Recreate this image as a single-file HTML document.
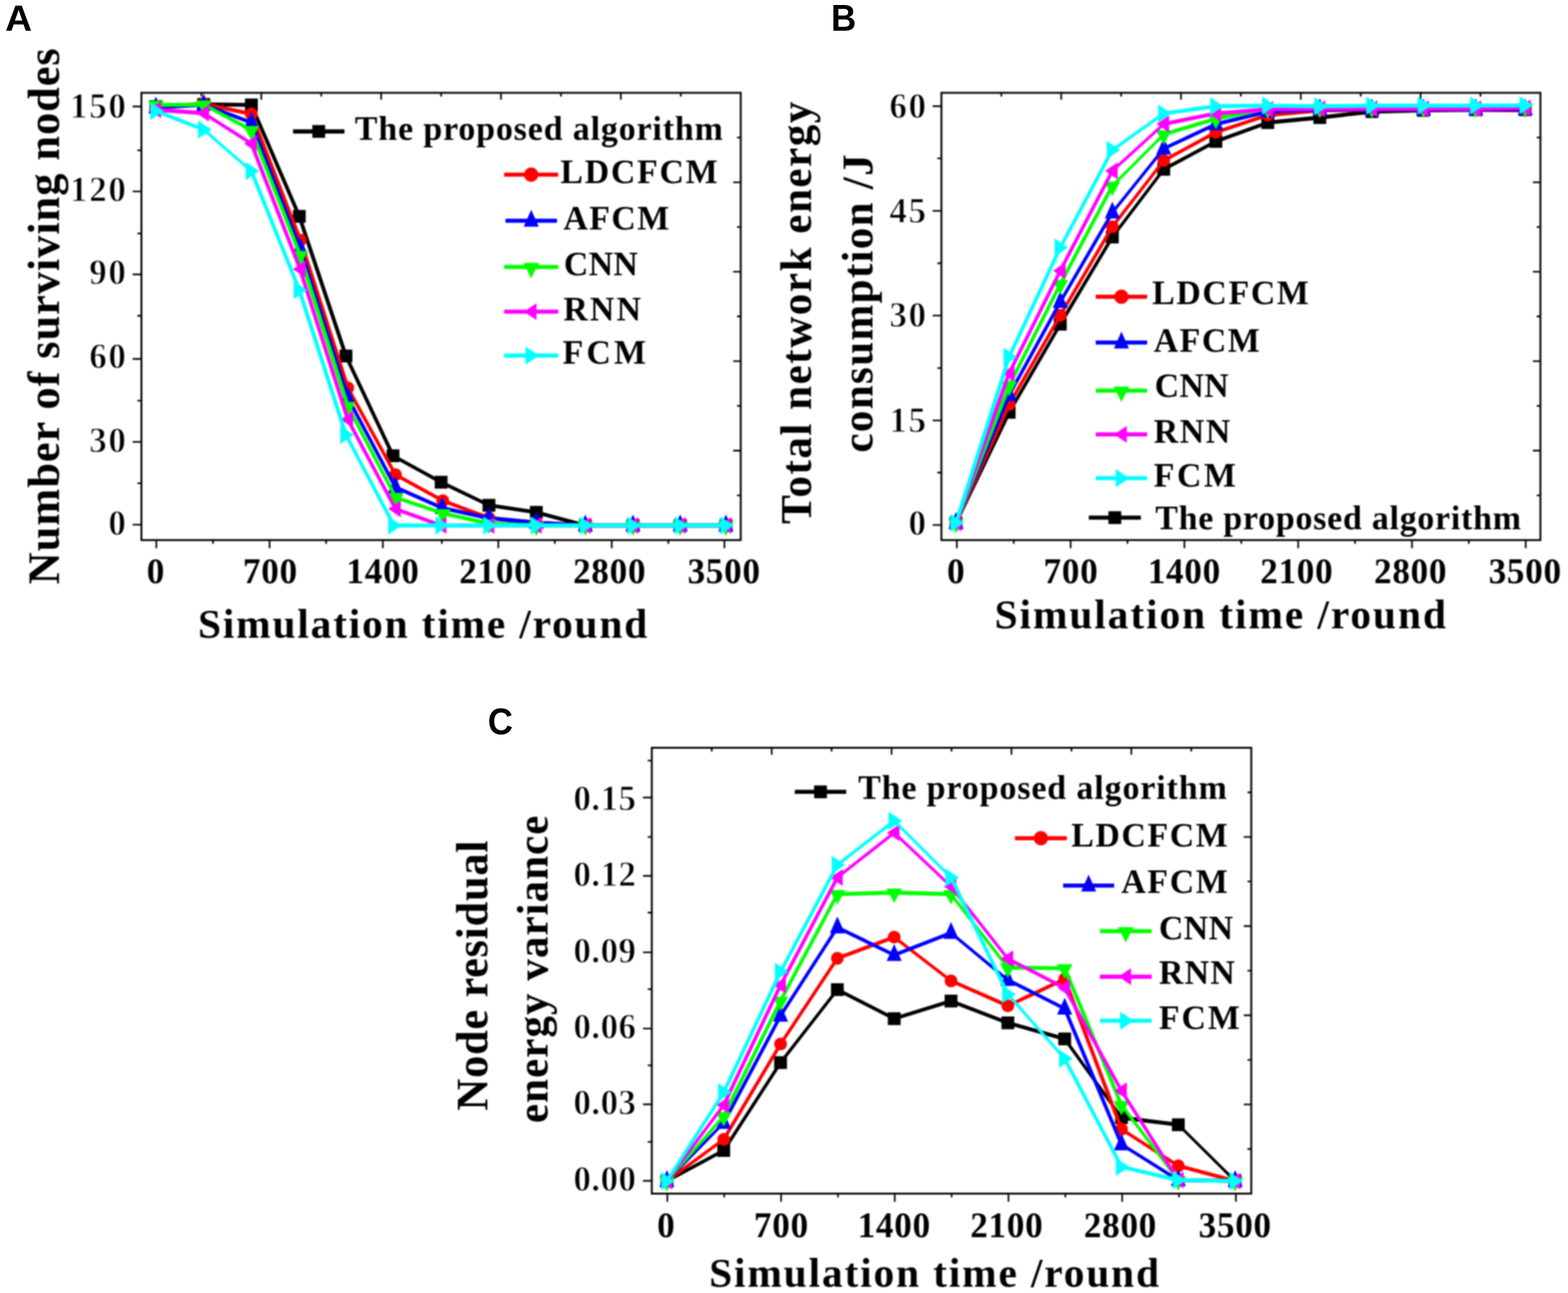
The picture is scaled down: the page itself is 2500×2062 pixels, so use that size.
<!DOCTYPE html>
<html lang="en">
<head>
<meta charset="utf-8">
<title>Figure</title>
<style>html,body{margin:0;padding:0;background:#fff}svg{display:block}text{fill:#000;stroke-linejoin:round}</style>
</head>
<body>
<svg width="2500" height="2062" viewBox="0 0 2500 2062">
<defs><filter id="soft" filterUnits="userSpaceOnUse" x="0" y="0" width="2500" height="2062" color-interpolation-filters="sRGB"><feGaussianBlur stdDeviation="1.1"/></filter></defs>
<rect width="2500" height="2062" fill="#fff"/>
<g id="charts" filter="url(#soft)">
<g id="chartA">
<rect x="225.5" y="148" width="955.5" height="713.3" fill="none" stroke="#000" stroke-width="3"/>
<path d="M249.2 861.3v13 M339.7 861.3v6 M429.8 861.3v13 M519.9 861.3v6 M610.4 861.3v13 M704.5 861.3v6 M794.5 861.3v13 M884.6 861.3v6 M975.3 861.3v13 M1065.6 861.3v6 M1155 861.3v13 M225.5 169.9h-14 M225.5 239.7h-6.5 M225.5 305.3h-14 M225.5 372.3h-6.5 M225.5 437.6h-14 M225.5 503.6h-6.5 M225.5 572.4h-14 M225.5 639h-6.5 M225.5 704.7h-14 M225.5 770.8h-6.5 M225.5 836.8h-14 M321.1 148v6 M416.6 148v11 M512.1 148v6 M607.7 148v11 M703.2 148v6 M798.8 148v11 M894.4 148v6 M989.9 148v11 M1085.5 148v6 M1181 219.3h-6 M1181 290.7h-12 M1181 362h-6 M1181 433.3h-12 M1181 504.6h-6 M1181 576h-12 M1181 647.3h-6 M1181 718.6h-12 M1181 790h-6" stroke="#000" stroke-width="2.6" fill="none"/>
<path d="M248.5 170L324.8 166.5M324.8 166.5L400.8 167.3M933.2 838L1009.2 838M1009.2 838L1084.5 838M1084.5 838L1157.4 838" fill="none" stroke="#000000" stroke-width="6.3" stroke-linecap="round"/>
<path d="M400.8 167.3L477.2 345" fill="none" stroke="#000000" stroke-width="5.8" stroke-linecap="round"/>
<path d="M477.2 345L551.6 567.7" fill="none" stroke="#000000" stroke-width="6.0" stroke-linecap="round"/>
<path d="M551.6 567.7L626.6 726.8M703.3 769L779.6 805.8" fill="none" stroke="#000000" stroke-width="5.7" stroke-linecap="round"/>
<path d="M626.6 726.8L703.3 769" fill="none" stroke="#000000" stroke-width="5.5" stroke-linecap="round"/>
<path d="M779.6 805.8L855.1 817" fill="none" stroke="#000000" stroke-width="6.2" stroke-linecap="round"/>
<path d="M855.1 817L933.2 838" fill="none" stroke="#000000" stroke-width="6.1" stroke-linecap="round"/>
<rect x="238.3" y="159.8" width="20.4" height="20.4" fill="#000000"/>
<rect x="314.6" y="156.3" width="20.4" height="20.4" fill="#000000"/>
<rect x="390.6" y="157.1" width="20.4" height="20.4" fill="#000000"/>
<rect x="467" y="334.8" width="20.4" height="20.4" fill="#000000"/>
<rect x="541.4" y="557.5" width="20.4" height="20.4" fill="#000000"/>
<rect x="616.4" y="716.6" width="20.4" height="20.4" fill="#000000"/>
<rect x="693.1" y="758.8" width="20.4" height="20.4" fill="#000000"/>
<rect x="769.4" y="795.6" width="20.4" height="20.4" fill="#000000"/>
<rect x="844.9" y="806.8" width="20.4" height="20.4" fill="#000000"/>
<rect x="923" y="827.8" width="20.4" height="20.4" fill="#000000"/>
<rect x="999" y="827.8" width="20.4" height="20.4" fill="#000000"/>
<rect x="1074.3" y="827.8" width="20.4" height="20.4" fill="#000000"/>
<rect x="1147.2" y="827.8" width="20.4" height="20.4" fill="#000000"/>
<path d="M248.5 170L324.8 165.6M779.6 826L855.1 833.5M855.1 833.5L933.2 838M933.2 838L1009.2 838M1009.2 838L1084.5 838M1084.5 838L1157.4 838" fill="none" stroke="#ff0000" stroke-width="6.3" stroke-linecap="round"/>
<path d="M324.8 165.6L400.8 181.8" fill="none" stroke="#ff0000" stroke-width="6.2" stroke-linecap="round"/>
<path d="M400.8 181.8L478.9 383M706 798.5L779.6 826" fill="none" stroke="#ff0000" stroke-width="5.9" stroke-linecap="round"/>
<path d="M478.9 383L554.5 618.5" fill="none" stroke="#ff0000" stroke-width="6.0" stroke-linecap="round"/>
<path d="M554.5 618.5L630.5 757M630.5 757L706 798.5" fill="none" stroke="#ff0000" stroke-width="5.5" stroke-linecap="round"/>
<circle cx="248.5" cy="170" r="10.2" fill="#ff0000"/>
<circle cx="324.8" cy="165.6" r="10.2" fill="#ff0000"/>
<circle cx="400.8" cy="181.8" r="10.2" fill="#ff0000"/>
<circle cx="478.9" cy="383" r="10.2" fill="#ff0000"/>
<circle cx="554.5" cy="618.5" r="10.2" fill="#ff0000"/>
<circle cx="630.5" cy="757" r="10.2" fill="#ff0000"/>
<circle cx="706" cy="798.5" r="10.2" fill="#ff0000"/>
<circle cx="779.6" cy="826" r="10.2" fill="#ff0000"/>
<circle cx="855.1" cy="833.5" r="10.2" fill="#ff0000"/>
<circle cx="933.2" cy="838" r="10.2" fill="#ff0000"/>
<circle cx="1009.2" cy="838" r="10.2" fill="#ff0000"/>
<circle cx="1084.5" cy="838" r="10.2" fill="#ff0000"/>
<circle cx="1157.4" cy="838" r="10.2" fill="#ff0000"/>
<path d="M248.5 171.5L324.8 167M779.6 826.5L855.1 833.5M855.1 833.5L933.2 838M933.2 838L1009.2 838M1009.2 838L1084.5 838M1084.5 838L1157.4 838" fill="none" stroke="#0000ff" stroke-width="6.3" stroke-linecap="round"/>
<path d="M324.8 167L400.8 195.5M400.8 195.5L478.5 396" fill="none" stroke="#0000ff" stroke-width="5.9" stroke-linecap="round"/>
<path d="M478.5 396L554.5 634" fill="none" stroke="#0000ff" stroke-width="6.0" stroke-linecap="round"/>
<path d="M554.5 634L630.5 777" fill="none" stroke="#0000ff" stroke-width="5.6" stroke-linecap="round"/>
<path d="M630.5 777L705 810" fill="none" stroke="#0000ff" stroke-width="5.8" stroke-linecap="round"/>
<path d="M705 810L779.6 826.5" fill="none" stroke="#0000ff" stroke-width="6.2" stroke-linecap="round"/>
<polygon points="248.5,154 236.5,181 260.5,181" fill="#0000ff"/>
<polygon points="324.8,149.5 312.8,176.5 336.8,176.5" fill="#0000ff"/>
<polygon points="400.8,178 388.8,205 412.8,205" fill="#0000ff"/>
<polygon points="478.5,378.5 466.5,405.5 490.5,405.5" fill="#0000ff"/>
<polygon points="554.5,616.5 542.5,643.5 566.5,643.5" fill="#0000ff"/>
<polygon points="630.5,759.5 618.5,786.5 642.5,786.5" fill="#0000ff"/>
<polygon points="705,792.5 693,819.5 717,819.5" fill="#0000ff"/>
<polygon points="779.6,809 767.6,836 791.6,836" fill="#0000ff"/>
<polygon points="855.1,816 843.1,843 867.1,843" fill="#0000ff"/>
<polygon points="933.2,820.5 921.2,847.5 945.2,847.5" fill="#0000ff"/>
<polygon points="1009.2,820.5 997.2,847.5 1021.2,847.5" fill="#0000ff"/>
<polygon points="1084.5,820.5 1072.5,847.5 1096.5,847.5" fill="#0000ff"/>
<polygon points="1157.4,820.5 1145.4,847.5 1169.4,847.5" fill="#0000ff"/>
<path d="M248.5 167.3L324.8 166.8M779.6 835L855.1 838M855.1 838L933.2 838M933.2 838L1009.2 838M1009.2 838L1084.5 838M1084.5 838L1157.4 838" fill="none" stroke="#00ff00" stroke-width="6.3" stroke-linecap="round"/>
<path d="M324.8 166.8L400.8 207.5M554.5 647.5L631 793.5" fill="none" stroke="#00ff00" stroke-width="5.6" stroke-linecap="round"/>
<path d="M400.8 207.5L478.5 406.7" fill="none" stroke="#00ff00" stroke-width="5.9" stroke-linecap="round"/>
<path d="M478.5 406.7L554.5 647.5M631 793.5L706 818.5" fill="none" stroke="#00ff00" stroke-width="6.0" stroke-linecap="round"/>
<path d="M706 818.5L779.6 835" fill="none" stroke="#00ff00" stroke-width="6.1" stroke-linecap="round"/>
<polygon points="248.5,183.8 236,160.8 261,160.8" fill="#00ff00"/>
<polygon points="324.8,183.3 312.3,160.3 337.3,160.3" fill="#00ff00"/>
<polygon points="400.8,224 388.3,201 413.3,201" fill="#00ff00"/>
<polygon points="478.5,423.2 466,400.2 491,400.2" fill="#00ff00"/>
<polygon points="554.5,664 542,641 567,641" fill="#00ff00"/>
<polygon points="631,810 618.5,787 643.5,787" fill="#00ff00"/>
<polygon points="706,835 693.5,812 718.5,812" fill="#00ff00"/>
<polygon points="779.6,851.5 767.1,828.5 792.1,828.5" fill="#00ff00"/>
<polygon points="855.1,854.5 842.6,831.5 867.6,831.5" fill="#00ff00"/>
<polygon points="933.2,854.5 920.7,831.5 945.7,831.5" fill="#00ff00"/>
<polygon points="1009.2,854.5 996.7,831.5 1021.7,831.5" fill="#00ff00"/>
<polygon points="1084.5,854.5 1072,831.5 1097,831.5" fill="#00ff00"/>
<polygon points="1157.4,854.5 1144.9,831.5 1169.9,831.5" fill="#00ff00"/>
<path d="M248.5 175L324.8 180.5M703.3 838L779.6 838M779.6 838L855.1 838M855.1 838L933.2 838M933.2 838L1009.2 838M1009.2 838L1084.5 838M1084.5 838L1157.4 838" fill="none" stroke="#ff00ff" stroke-width="6.3" stroke-linecap="round"/>
<path d="M324.8 180.5L400.8 229" fill="none" stroke="#ff00ff" stroke-width="5.3" stroke-linecap="round"/>
<path d="M400.8 229L478.5 429.3M630.5 811.5L703.3 838" fill="none" stroke="#ff00ff" stroke-width="5.9" stroke-linecap="round"/>
<path d="M478.5 429.3L554.5 669" fill="none" stroke="#ff00ff" stroke-width="6.0" stroke-linecap="round"/>
<path d="M554.5 669L630.5 811.5" fill="none" stroke="#ff00ff" stroke-width="5.6" stroke-linecap="round"/>
<polygon points="237,175 257,161.5 257,188.5" fill="#ff00ff"/>
<polygon points="313.3,180.5 333.3,167 333.3,194" fill="#ff00ff"/>
<polygon points="389.3,229 409.3,215.5 409.3,242.5" fill="#ff00ff"/>
<polygon points="467,429.3 487,415.8 487,442.8" fill="#ff00ff"/>
<polygon points="543,669 563,655.5 563,682.5" fill="#ff00ff"/>
<polygon points="619,811.5 639,798 639,825" fill="#ff00ff"/>
<polygon points="691.8,838 711.8,824.5 711.8,851.5" fill="#ff00ff"/>
<polygon points="768.1,838 788.1,824.5 788.1,851.5" fill="#ff00ff"/>
<polygon points="843.6,838 863.6,824.5 863.6,851.5" fill="#ff00ff"/>
<polygon points="921.7,838 941.7,824.5 941.7,851.5" fill="#ff00ff"/>
<polygon points="997.7,838 1017.7,824.5 1017.7,851.5" fill="#ff00ff"/>
<polygon points="1073,838 1093,824.5 1093,851.5" fill="#ff00ff"/>
<polygon points="1145.9,838 1165.9,824.5 1165.9,851.5" fill="#ff00ff"/>
<path d="M248.5 177L324.8 206.8" fill="none" stroke="#00ffff" stroke-width="5.9" stroke-linecap="round"/>
<path d="M324.8 206.8L400.8 272.8" fill="none" stroke="#00ffff" stroke-width="4.8" stroke-linecap="round"/>
<path d="M400.8 272.8L477.2 462.5" fill="none" stroke="#00ffff" stroke-width="5.8" stroke-linecap="round"/>
<path d="M477.2 462.5L551.5 693.5" fill="none" stroke="#00ffff" stroke-width="6.0" stroke-linecap="round"/>
<path d="M551.5 693.5L628 838" fill="none" stroke="#00ffff" stroke-width="5.6" stroke-linecap="round"/>
<path d="M628 838L703.3 838M703.3 838L779.6 838M779.6 838L855.1 838M855.1 838L933.2 838M933.2 838L1009.2 838M1009.2 838L1084.5 838M1084.5 838L1157.4 838" fill="none" stroke="#00ffff" stroke-width="6.3" stroke-linecap="round"/>
<polygon points="261,177 239.5,162.5 239.5,191.5" fill="#00ffff"/>
<polygon points="337.3,206.8 315.8,192.3 315.8,221.3" fill="#00ffff"/>
<polygon points="413.3,272.8 391.8,258.3 391.8,287.3" fill="#00ffff"/>
<polygon points="489.7,462.5 468.2,448 468.2,477" fill="#00ffff"/>
<polygon points="564,693.5 542.5,679 542.5,708" fill="#00ffff"/>
<polygon points="640.5,838 619,823.5 619,852.5" fill="#00ffff"/>
<polygon points="715.8,838 694.3,823.5 694.3,852.5" fill="#00ffff"/>
<polygon points="792.1,838 770.6,823.5 770.6,852.5" fill="#00ffff"/>
<polygon points="867.6,838 846.1,823.5 846.1,852.5" fill="#00ffff"/>
<polygon points="945.7,838 924.2,823.5 924.2,852.5" fill="#00ffff"/>
<polygon points="1021.7,838 1000.2,823.5 1000.2,852.5" fill="#00ffff"/>
<polygon points="1097,838 1075.5,823.5 1075.5,852.5" fill="#00ffff"/>
<polygon points="1169.9,838 1148.4,823.5 1148.4,852.5" fill="#00ffff"/>
<text x="248" y="930" font-family='"Liberation Serif", "DejaVu Serif", serif' font-weight="bold" font-size="56" text-anchor="middle">0</text>
<text x="430.6" y="930" font-family='"Liberation Serif", "DejaVu Serif", serif' font-weight="bold" font-size="56" text-anchor="middle" textLength="86.5" lengthAdjust="spacing">700</text>
<text x="610.1" y="930" font-family='"Liberation Serif", "DejaVu Serif", serif' font-weight="bold" font-size="56" text-anchor="middle" textLength="115.5" lengthAdjust="spacing">1400</text>
<text x="789.9" y="930" font-family='"Liberation Serif", "DejaVu Serif", serif' font-weight="bold" font-size="56" text-anchor="middle" textLength="115.5" lengthAdjust="spacing">2100</text>
<text x="971.4" y="930" font-family='"Liberation Serif", "DejaVu Serif", serif' font-weight="bold" font-size="56" text-anchor="middle" textLength="115.5" lengthAdjust="spacing">2800</text>
<text x="1153.9" y="930" font-family='"Liberation Serif", "DejaVu Serif", serif' font-weight="bold" font-size="56" text-anchor="middle" textLength="115.5" lengthAdjust="spacing">3500</text>
<text x="200.8" y="188.3" font-family='"Liberation Serif", "DejaVu Serif", serif' font-weight="bold" font-size="56" text-anchor="end" textLength="89.2" lengthAdjust="spacing" stroke="#fff" stroke-width="1.3">150</text>
<text x="200.8" y="320.8" font-family='"Liberation Serif", "DejaVu Serif", serif' font-weight="bold" font-size="56" text-anchor="end" textLength="89.2" lengthAdjust="spacing" stroke="#fff" stroke-width="1.3">120</text>
<text x="200.8" y="453" font-family='"Liberation Serif", "DejaVu Serif", serif' font-weight="bold" font-size="56" text-anchor="end" textLength="58.6" lengthAdjust="spacing" stroke="#fff" stroke-width="1.3">90</text>
<text x="200.8" y="587.3" font-family='"Liberation Serif", "DejaVu Serif", serif' font-weight="bold" font-size="56" text-anchor="end" textLength="58.6" lengthAdjust="spacing" stroke="#fff" stroke-width="1.3">60</text>
<text x="200.8" y="720.7" font-family='"Liberation Serif", "DejaVu Serif", serif' font-weight="bold" font-size="56" text-anchor="end" textLength="58.6" lengthAdjust="spacing" stroke="#fff" stroke-width="1.3">30</text>
<text x="200.8" y="852.8" font-family='"Liberation Serif", "DejaVu Serif", serif' font-weight="bold" font-size="56" text-anchor="end" stroke="#fff" stroke-width="1.3">0</text>
<text x="315.7" y="1016.5" font-family='"Liberation Serif", "DejaVu Serif", serif' font-weight="bold" font-size="66" textLength="716.3" lengthAdjust="spacing">Simulation time /round</text>
<text transform="translate(94 932) rotate(-90)" font-family='"Liberation Serif", "DejaVu Serif", serif' font-weight="bold" font-size="71" textLength="855" lengthAdjust="spacing">Number of surviving nodes</text>
<line x1="467.2" y1="209.6" x2="549.2" y2="209.6" stroke="#000000" stroke-width="6.6"/>
<rect x="498" y="199.4" width="20.4" height="20.4" fill="#000000"/>
<text x="565.8" y="222.6" font-family='"Liberation Serif", "DejaVu Serif", serif' font-weight="bold" font-size="54" textLength="586.7" lengthAdjust="spacing">The proposed algorithm</text>
<line x1="803.8" y1="278.5" x2="890" y2="278.5" stroke="#ff0000" stroke-width="6.6"/>
<circle cx="846.9" cy="278.5" r="11.4" fill="#ff0000"/>
<text x="893.6" y="291.5" font-family='"Liberation Serif", "DejaVu Serif", serif' font-weight="bold" font-size="54" textLength="250.6" lengthAdjust="spacing">LDCFCM</text>
<line x1="806" y1="352" x2="888" y2="352" stroke="#0000ff" stroke-width="6.6"/>
<polygon points="847,334.5 835,361.5 859,361.5" fill="#0000ff"/>
<text x="898.3" y="366.3" font-family='"Liberation Serif", "DejaVu Serif", serif' font-weight="bold" font-size="54" textLength="168.7" lengthAdjust="spacing">AFCM</text>
<line x1="803.8" y1="425.7" x2="890" y2="425.7" stroke="#00ff00" stroke-width="6.6"/>
<polygon points="846.9,443.8 834.4,419.2 859.4,419.2" fill="#00ff00"/>
<text x="899" y="438.8" font-family='"Liberation Serif", "DejaVu Serif", serif' font-weight="bold" font-size="54" textLength="118" lengthAdjust="spacing">CNN</text>
<line x1="803.8" y1="497" x2="890" y2="497" stroke="#ff00ff" stroke-width="6.6"/>
<polygon points="835.4,497 855.4,483.5 855.4,510.5" fill="#ff00ff"/>
<text x="898.3" y="511.2" font-family='"Liberation Serif", "DejaVu Serif", serif' font-weight="bold" font-size="54" textLength="123.6" lengthAdjust="spacing">RNN</text>
<line x1="803.8" y1="567" x2="890" y2="567" stroke="#00ffff" stroke-width="6.6"/>
<polygon points="859.4,567 837.9,552.5 837.9,581.5" fill="#00ffff"/>
<text x="897" y="579.5" font-family='"Liberation Serif", "DejaVu Serif", serif' font-weight="bold" font-size="54" textLength="133" lengthAdjust="spacing">FCM</text>
</g>
<g id="chartB">
<rect x="1501" y="148" width="955" height="713.3" fill="none" stroke="#000" stroke-width="3"/>
<path d="M1525.6 861.3v13 M1616.3 861.3v6 M1707 861.3v13 M1797.7 861.3v6 M1888.4 861.3v13 M1979.1 861.3v6 M2069.8 861.3v13 M2160.5 861.3v6 M2251.2 861.3v13 M2341.9 861.3v6 M2432.6 861.3v13 M1501 169.4h-14 M1501 252.5h-6.5 M1501 336.3h-14 M1501 419.9h-6.5 M1501 503.2h-14 M1501 587h-6.5 M1501 670.5h-14 M1501 753.6h-6.5 M1501 837.2h-14 M1596.5 148v6 M1692 148v11 M1787.5 148v6 M1883 148v11 M1978.5 148v6 M2074 148v11 M2169.5 148v6 M2265 148v11 M2360.5 148v6 M2456 219.3h-6 M2456 290.7h-12 M2456 362h-6 M2456 433.3h-12 M2456 504.6h-6 M2456 576h-12 M2456 647.3h-6 M2456 718.6h-12 M2456 790h-6" stroke="#000" stroke-width="2.6" fill="none"/>
<path d="M1524.2 834L1609 657.5" fill="none" stroke="#000000" stroke-width="5.7" stroke-linecap="round"/>
<path d="M1609 657.5L1690.5 517M1690.5 517L1773.5 378" fill="none" stroke="#000000" stroke-width="5.4" stroke-linecap="round"/>
<path d="M1773.5 378L1855.5 270" fill="none" stroke="#000000" stroke-width="5.0" stroke-linecap="round"/>
<path d="M1855.5 270L1938.5 225.5" fill="none" stroke="#000000" stroke-width="5.6" stroke-linecap="round"/>
<path d="M1938.5 225.5L2021.3 195.5" fill="none" stroke="#000000" stroke-width="5.9" stroke-linecap="round"/>
<path d="M2021.3 195.5L2104.3 187.5M2104.3 187.5L2187.5 178M2187.5 178L2269.5 176M2269.5 176L2353 175M2353 175L2431.8 175" fill="none" stroke="#000000" stroke-width="6.3" stroke-linecap="round"/>
<rect x="1514" y="823.8" width="20.4" height="20.4" fill="#000000"/>
<rect x="1598.8" y="647.3" width="20.4" height="20.4" fill="#000000"/>
<rect x="1680.3" y="506.8" width="20.4" height="20.4" fill="#000000"/>
<rect x="1763.3" y="367.8" width="20.4" height="20.4" fill="#000000"/>
<rect x="1845.3" y="259.8" width="20.4" height="20.4" fill="#000000"/>
<rect x="1928.3" y="215.3" width="20.4" height="20.4" fill="#000000"/>
<rect x="2011.1" y="185.3" width="20.4" height="20.4" fill="#000000"/>
<rect x="2094.1" y="177.3" width="20.4" height="20.4" fill="#000000"/>
<rect x="2177.3" y="167.8" width="20.4" height="20.4" fill="#000000"/>
<rect x="2259.3" y="165.8" width="20.4" height="20.4" fill="#000000"/>
<rect x="2342.8" y="164.8" width="20.4" height="20.4" fill="#000000"/>
<rect x="2421.6" y="164.8" width="20.4" height="20.4" fill="#000000"/>
<path d="M1524.2 834L1609 645" fill="none" stroke="#ff0000" stroke-width="5.7" stroke-linecap="round"/>
<path d="M1609 645L1690.5 503M1855.5 256L1938.5 211" fill="none" stroke="#ff0000" stroke-width="5.5" stroke-linecap="round"/>
<path d="M1690.5 503L1773.5 361.6" fill="none" stroke="#ff0000" stroke-width="5.4" stroke-linecap="round"/>
<path d="M1773.5 361.6L1855.5 256" fill="none" stroke="#ff0000" stroke-width="5.0" stroke-linecap="round"/>
<path d="M1938.5 211L2021.3 183.5" fill="none" stroke="#ff0000" stroke-width="6.0" stroke-linecap="round"/>
<path d="M2021.3 183.5L2104.3 176M2104.3 176L2187.5 175M2187.5 175L2269.5 175M2269.5 175L2353 175M2353 175L2431.8 176" fill="none" stroke="#ff0000" stroke-width="6.3" stroke-linecap="round"/>
<circle cx="1524.2" cy="834" r="10.2" fill="#ff0000"/>
<circle cx="1609" cy="645" r="10.2" fill="#ff0000"/>
<circle cx="1690.5" cy="503" r="10.2" fill="#ff0000"/>
<circle cx="1773.5" cy="361.6" r="10.2" fill="#ff0000"/>
<circle cx="1855.5" cy="256" r="10.2" fill="#ff0000"/>
<circle cx="1938.5" cy="211" r="10.2" fill="#ff0000"/>
<circle cx="2021.3" cy="183.5" r="10.2" fill="#ff0000"/>
<circle cx="2104.3" cy="176" r="10.2" fill="#ff0000"/>
<circle cx="2187.5" cy="175" r="10.2" fill="#ff0000"/>
<circle cx="2269.5" cy="175" r="10.2" fill="#ff0000"/>
<circle cx="2353" cy="175" r="10.2" fill="#ff0000"/>
<circle cx="2431.8" cy="176" r="10.2" fill="#ff0000"/>
<path d="M1524.2 834L1609 630" fill="none" stroke="#0000ff" stroke-width="5.8" stroke-linecap="round"/>
<path d="M1609 630L1690.5 481.5" fill="none" stroke="#0000ff" stroke-width="5.5" stroke-linecap="round"/>
<path d="M1690.5 481.5L1773.5 339" fill="none" stroke="#0000ff" stroke-width="5.4" stroke-linecap="round"/>
<path d="M1773.5 339L1855.5 237" fill="none" stroke="#0000ff" stroke-width="4.9" stroke-linecap="round"/>
<path d="M1855.5 237L1938.5 198" fill="none" stroke="#0000ff" stroke-width="5.7" stroke-linecap="round"/>
<path d="M1938.5 198L2021.3 178" fill="none" stroke="#0000ff" stroke-width="6.1" stroke-linecap="round"/>
<path d="M2021.3 178L2104.3 174.5M2104.3 174.5L2187.5 174.5M2187.5 174.5L2269.5 174.5M2269.5 174.5L2353 174.5M2353 174.5L2431.8 174.5" fill="none" stroke="#0000ff" stroke-width="6.3" stroke-linecap="round"/>
<polygon points="1524.2,816.5 1512.2,843.5 1536.2,843.5" fill="#0000ff"/>
<polygon points="1609,612.5 1597,639.5 1621,639.5" fill="#0000ff"/>
<polygon points="1690.5,464 1678.5,491 1702.5,491" fill="#0000ff"/>
<polygon points="1773.5,321.5 1761.5,348.5 1785.5,348.5" fill="#0000ff"/>
<polygon points="1855.5,219.5 1843.5,246.5 1867.5,246.5" fill="#0000ff"/>
<polygon points="1938.5,180.5 1926.5,207.5 1950.5,207.5" fill="#0000ff"/>
<polygon points="2021.3,160.5 2009.3,187.5 2033.3,187.5" fill="#0000ff"/>
<polygon points="2104.3,157 2092.3,184 2116.3,184" fill="#0000ff"/>
<polygon points="2187.5,157 2175.5,184 2199.5,184" fill="#0000ff"/>
<polygon points="2269.5,157 2257.5,184 2281.5,184" fill="#0000ff"/>
<polygon points="2353,157 2341,184 2365,184" fill="#0000ff"/>
<polygon points="2431.8,157 2419.8,184 2443.8,184" fill="#0000ff"/>
<path d="M1524.2 834L1609 615" fill="none" stroke="#00ff00" stroke-width="5.9" stroke-linecap="round"/>
<path d="M1609 615L1690.5 453M1690.5 453L1773.5 296.3" fill="none" stroke="#00ff00" stroke-width="5.6" stroke-linecap="round"/>
<path d="M1773.5 296.3L1855.5 214.3" fill="none" stroke="#00ff00" stroke-width="4.5" stroke-linecap="round"/>
<path d="M1855.5 214.3L1938.5 189.4" fill="none" stroke="#00ff00" stroke-width="6.0" stroke-linecap="round"/>
<path d="M1938.5 189.4L2021.3 173" fill="none" stroke="#00ff00" stroke-width="6.2" stroke-linecap="round"/>
<path d="M2021.3 173L2104.3 172M2104.3 172L2187.5 172M2187.5 172L2269.5 172M2269.5 172L2353 172M2353 172L2431.8 171" fill="none" stroke="#00ff00" stroke-width="6.3" stroke-linecap="round"/>
<polygon points="1524.2,850.5 1511.7,827.5 1536.7,827.5" fill="#00ff00"/>
<polygon points="1609,631.5 1596.5,608.5 1621.5,608.5" fill="#00ff00"/>
<polygon points="1690.5,469.5 1678,446.5 1703,446.5" fill="#00ff00"/>
<polygon points="1773.5,312.8 1761,289.8 1786,289.8" fill="#00ff00"/>
<polygon points="1855.5,230.8 1843,207.8 1868,207.8" fill="#00ff00"/>
<polygon points="1938.5,205.9 1926,182.9 1951,182.9" fill="#00ff00"/>
<polygon points="2021.3,189.5 2008.8,166.5 2033.8,166.5" fill="#00ff00"/>
<polygon points="2104.3,188.5 2091.8,165.5 2116.8,165.5" fill="#00ff00"/>
<polygon points="2187.5,188.5 2175,165.5 2200,165.5" fill="#00ff00"/>
<polygon points="2269.5,188.5 2257,165.5 2282,165.5" fill="#00ff00"/>
<polygon points="2353,188.5 2340.5,165.5 2365.5,165.5" fill="#00ff00"/>
<polygon points="2431.8,187.5 2419.3,164.5 2444.3,164.5" fill="#00ff00"/>
<path d="M1524.2 834L1609 595" fill="none" stroke="#ff00ff" stroke-width="5.9" stroke-linecap="round"/>
<path d="M1609 595L1690.5 431.7M1690.5 431.7L1773.5 272.5" fill="none" stroke="#ff00ff" stroke-width="5.6" stroke-linecap="round"/>
<path d="M1773.5 272.5L1855.5 197.7" fill="none" stroke="#ff00ff" stroke-width="4.7" stroke-linecap="round"/>
<path d="M1855.5 197.7L1938.5 181" fill="none" stroke="#ff00ff" stroke-width="6.2" stroke-linecap="round"/>
<path d="M1938.5 181L2021.3 174.5M2021.3 174.5L2104.3 173.5M2104.3 173.5L2187.5 173.5M2187.5 173.5L2269.5 173.5M2269.5 173.5L2353 173.5M2353 173.5L2431.8 172" fill="none" stroke="#ff00ff" stroke-width="6.3" stroke-linecap="round"/>
<polygon points="1512.7,834 1532.7,820.5 1532.7,847.5" fill="#ff00ff"/>
<polygon points="1597.5,595 1617.5,581.5 1617.5,608.5" fill="#ff00ff"/>
<polygon points="1679,431.7 1699,418.2 1699,445.2" fill="#ff00ff"/>
<polygon points="1762,272.5 1782,259 1782,286" fill="#ff00ff"/>
<polygon points="1844,197.7 1864,184.2 1864,211.2" fill="#ff00ff"/>
<polygon points="1927,181 1947,167.5 1947,194.5" fill="#ff00ff"/>
<polygon points="2009.8,174.5 2029.8,161 2029.8,188" fill="#ff00ff"/>
<polygon points="2092.8,173.5 2112.8,160 2112.8,187" fill="#ff00ff"/>
<polygon points="2176,173.5 2196,160 2196,187" fill="#ff00ff"/>
<polygon points="2258,173.5 2278,160 2278,187" fill="#ff00ff"/>
<polygon points="2341.5,173.5 2361.5,160 2361.5,187" fill="#ff00ff"/>
<polygon points="2420.3,172 2440.3,158.5 2440.3,185.5" fill="#ff00ff"/>
<path d="M1524.2 834L1609 569" fill="none" stroke="#00ffff" stroke-width="6.0" stroke-linecap="round"/>
<path d="M1609 569L1690.5 394.8" fill="none" stroke="#00ffff" stroke-width="5.7" stroke-linecap="round"/>
<path d="M1690.5 394.8L1773.5 239.3" fill="none" stroke="#00ffff" stroke-width="5.6" stroke-linecap="round"/>
<path d="M1773.5 239.3L1855.5 181" fill="none" stroke="#00ffff" stroke-width="5.1" stroke-linecap="round"/>
<path d="M1855.5 181L1938.5 169.5" fill="none" stroke="#00ffff" stroke-width="6.2" stroke-linecap="round"/>
<path d="M1938.5 169.5L2021.3 168.5M2021.3 168.5L2104.3 169.5M2104.3 169.5L2187.5 168.5M2187.5 168.5L2269.5 168.5M2269.5 168.5L2353 168.5M2353 168.5L2431.8 168" fill="none" stroke="#00ffff" stroke-width="6.3" stroke-linecap="round"/>
<polygon points="1536.7,834 1515.2,819.5 1515.2,848.5" fill="#00ffff"/>
<polygon points="1621.5,569 1600,554.5 1600,583.5" fill="#00ffff"/>
<polygon points="1703,394.8 1681.5,380.3 1681.5,409.3" fill="#00ffff"/>
<polygon points="1786,239.3 1764.5,224.8 1764.5,253.8" fill="#00ffff"/>
<polygon points="1868,181 1846.5,166.5 1846.5,195.5" fill="#00ffff"/>
<polygon points="1951,169.5 1929.5,155 1929.5,184" fill="#00ffff"/>
<polygon points="2033.8,168.5 2012.3,154 2012.3,183" fill="#00ffff"/>
<polygon points="2116.8,169.5 2095.3,155 2095.3,184" fill="#00ffff"/>
<polygon points="2200,168.5 2178.5,154 2178.5,183" fill="#00ffff"/>
<polygon points="2282,168.5 2260.5,154 2260.5,183" fill="#00ffff"/>
<polygon points="2365.5,168.5 2344,154 2344,183" fill="#00ffff"/>
<polygon points="2444.3,168 2422.8,153.5 2422.8,182.5" fill="#00ffff"/>
<text x="1524" y="930" font-family='"Liberation Serif", "DejaVu Serif", serif' font-weight="bold" font-size="56" text-anchor="middle">0</text>
<text x="1706.9" y="930" font-family='"Liberation Serif", "DejaVu Serif", serif' font-weight="bold" font-size="56" text-anchor="middle" textLength="86.5" lengthAdjust="spacing">700</text>
<text x="1887.7" y="930" font-family='"Liberation Serif", "DejaVu Serif", serif' font-weight="bold" font-size="56" text-anchor="middle" textLength="115.5" lengthAdjust="spacing">1400</text>
<text x="2067" y="930" font-family='"Liberation Serif", "DejaVu Serif", serif' font-weight="bold" font-size="56" text-anchor="middle" textLength="115.5" lengthAdjust="spacing">2100</text>
<text x="2248.5" y="930" font-family='"Liberation Serif", "DejaVu Serif", serif' font-weight="bold" font-size="56" text-anchor="middle" textLength="115.5" lengthAdjust="spacing">2800</text>
<text x="2431.2" y="930" font-family='"Liberation Serif", "DejaVu Serif", serif' font-weight="bold" font-size="56" text-anchor="middle" textLength="115.5" lengthAdjust="spacing">3500</text>
<text x="1476.5" y="188.3" font-family='"Liberation Serif", "DejaVu Serif", serif' font-weight="bold" font-size="56" text-anchor="end" textLength="58.6" lengthAdjust="spacing" stroke="#fff" stroke-width="1.3">60</text>
<text x="1476.5" y="355.3" font-family='"Liberation Serif", "DejaVu Serif", serif' font-weight="bold" font-size="56" text-anchor="end" textLength="58.6" lengthAdjust="spacing" stroke="#fff" stroke-width="1.3">45</text>
<text x="1476.5" y="521.4" font-family='"Liberation Serif", "DejaVu Serif", serif' font-weight="bold" font-size="56" text-anchor="end" textLength="58.6" lengthAdjust="spacing" stroke="#fff" stroke-width="1.3">30</text>
<text x="1476.5" y="688.7" font-family='"Liberation Serif", "DejaVu Serif", serif' font-weight="bold" font-size="56" text-anchor="end" textLength="58.6" lengthAdjust="spacing" stroke="#fff" stroke-width="1.3">15</text>
<text x="1476.5" y="852.8" font-family='"Liberation Serif", "DejaVu Serif", serif' font-weight="bold" font-size="56" text-anchor="end" stroke="#fff" stroke-width="1.3">0</text>
<text x="1585.7" y="1001.5" font-family='"Liberation Serif", "DejaVu Serif", serif' font-weight="bold" font-size="66" textLength="719.7" lengthAdjust="spacing">Simulation time /round</text>
<text transform="translate(1292.6 835.6) rotate(-90)" font-family='"Liberation Serif", "DejaVu Serif", serif' font-weight="bold" font-size="69" textLength="673.6" lengthAdjust="spacing">Total network energy</text>
<text transform="translate(1390.7 721.7) rotate(-90)" font-family='"Liberation Serif", "DejaVu Serif", serif' font-weight="bold" font-size="69" textLength="475.6" lengthAdjust="spacing">consumption /J</text>
<line x1="1747" y1="473.2" x2="1829" y2="473.2" stroke="#ff0000" stroke-width="6.6"/>
<circle cx="1788" cy="473.2" r="11.4" fill="#ff0000"/>
<text x="1837" y="484.5" font-family='"Liberation Serif", "DejaVu Serif", serif' font-weight="bold" font-size="54" textLength="249.7" lengthAdjust="spacing">LDCFCM</text>
<line x1="1747" y1="546.3" x2="1829" y2="546.3" stroke="#0000ff" stroke-width="6.6"/>
<polygon points="1788,528.8 1776,555.8 1800,555.8" fill="#0000ff"/>
<text x="1839.5" y="560.6" font-family='"Liberation Serif", "DejaVu Serif", serif' font-weight="bold" font-size="54" textLength="169" lengthAdjust="spacing">AFCM</text>
<line x1="1747" y1="623" x2="1829" y2="623" stroke="#00ff00" stroke-width="6.6"/>
<polygon points="1788,641.1 1775.5,616.5 1800.5,616.5" fill="#00ff00"/>
<text x="1841" y="633" font-family='"Liberation Serif", "DejaVu Serif", serif' font-weight="bold" font-size="54" textLength="118" lengthAdjust="spacing">CNN</text>
<line x1="1747" y1="692.8" x2="1829" y2="692.8" stroke="#ff00ff" stroke-width="6.6"/>
<polygon points="1776.5,692.8 1796.5,679.3 1796.5,706.3" fill="#ff00ff"/>
<text x="1839.5" y="705.5" font-family='"Liberation Serif", "DejaVu Serif", serif' font-weight="bold" font-size="54" textLength="122" lengthAdjust="spacing">RNN</text>
<line x1="1747" y1="762.5" x2="1829" y2="762.5" stroke="#00ffff" stroke-width="6.6"/>
<polygon points="1800.5,762.5 1779,748 1779,777" fill="#00ffff"/>
<text x="1839.5" y="775.5" font-family='"Liberation Serif", "DejaVu Serif", serif' font-weight="bold" font-size="54" textLength="131" lengthAdjust="spacing">FCM</text>
<line x1="1736" y1="825.5" x2="1819" y2="825.5" stroke="#000000" stroke-width="6.6"/>
<rect x="1767.3" y="815.3" width="20.4" height="20.4" fill="#000000"/>
<text x="1842" y="844.4" font-family='"Liberation Serif", "DejaVu Serif", serif' font-weight="bold" font-size="54" textLength="583" lengthAdjust="spacing">The proposed algorithm</text>
</g>
<g id="chartC">
<rect x="1039.2" y="1192.5" width="955.8" height="711" fill="none" stroke="#000" stroke-width="3"/>
<path d="M1064 1903.5v13 M1154.7 1903.5v6 M1245.3 1903.5v13 M1336 1903.5v6 M1426.6 1903.5v13 M1517.2 1903.5v6 M1607.9 1903.5v13 M1698.6 1903.5v6 M1789.2 1903.5v13 M1879.8 1903.5v6 M1970.5 1903.5v13 M1039.2 1883.1h-14 M1039.2 1821h-6.5 M1039.2 1761.1h-14 M1039.2 1699h-6.5 M1039.2 1640.2h-14 M1039.2 1577.5h-6.5 M1039.2 1518.7h-14 M1039.2 1455.4h-6.5 M1039.2 1396.9h-14 M1039.2 1334.8h-6.5 M1039.2 1271.9h-14 M1039.2 1213h-6.5 M1134.8 1192.5v6 M1230.4 1192.5v11 M1325.9 1192.5v6 M1421.5 1192.5v11 M1517.1 1192.5v6 M1612.7 1192.5v11 M1708.3 1192.5v6 M1803.8 1192.5v11 M1899.4 1192.5v6 M1995 1263.6h-6 M1995 1334.7h-12 M1995 1405.8h-6 M1995 1476.9h-12 M1995 1548h-6 M1995 1619.1h-12 M1995 1690.2h-6 M1995 1761.3h-12 M1995 1832.4h-6" stroke="#000" stroke-width="2.6" fill="none"/>
<path d="M1063.3 1883.4L1153.9 1834.7" fill="none" stroke="#000000" stroke-width="5.5" stroke-linecap="round"/>
<path d="M1153.9 1834.7L1244.5 1694.6" fill="none" stroke="#000000" stroke-width="5.3" stroke-linecap="round"/>
<path d="M1244.5 1694.6L1335.1 1578.2" fill="none" stroke="#000000" stroke-width="5.0" stroke-linecap="round"/>
<path d="M1335.1 1578.2L1425.7 1624.5" fill="none" stroke="#000000" stroke-width="5.6" stroke-linecap="round"/>
<path d="M1425.7 1624.5L1516.3 1596.4" fill="none" stroke="#000000" stroke-width="6.0" stroke-linecap="round"/>
<path d="M1516.3 1596.4L1606.9 1631.2" fill="none" stroke="#000000" stroke-width="5.9" stroke-linecap="round"/>
<path d="M1606.9 1631.2L1697.5 1656.8" fill="none" stroke="#000000" stroke-width="6.1" stroke-linecap="round"/>
<path d="M1697.5 1656.8L1788.1 1782.3" fill="none" stroke="#000000" stroke-width="5.1" stroke-linecap="round"/>
<path d="M1788.1 1782.3L1878.7 1793.7" fill="none" stroke="#000000" stroke-width="6.3" stroke-linecap="round"/>
<path d="M1878.7 1793.7L1969.3 1883.4" fill="none" stroke="#000000" stroke-width="4.5" stroke-linecap="round"/>
<rect x="1053.1" y="1873.2" width="20.4" height="20.4" fill="#000000"/>
<rect x="1143.7" y="1824.5" width="20.4" height="20.4" fill="#000000"/>
<rect x="1234.3" y="1684.4" width="20.4" height="20.4" fill="#000000"/>
<rect x="1324.9" y="1568" width="20.4" height="20.4" fill="#000000"/>
<rect x="1415.5" y="1614.3" width="20.4" height="20.4" fill="#000000"/>
<rect x="1506.1" y="1586.2" width="20.4" height="20.4" fill="#000000"/>
<rect x="1596.7" y="1621" width="20.4" height="20.4" fill="#000000"/>
<rect x="1687.3" y="1646.6" width="20.4" height="20.4" fill="#000000"/>
<rect x="1777.9" y="1772.1" width="20.4" height="20.4" fill="#000000"/>
<rect x="1868.5" y="1783.5" width="20.4" height="20.4" fill="#000000"/>
<rect x="1959.1" y="1873.2" width="20.4" height="20.4" fill="#000000"/>
<path d="M1063.3 1883.4L1153.9 1817" fill="none" stroke="#ff0000" stroke-width="5.1" stroke-linecap="round"/>
<path d="M1153.9 1817L1244.5 1665" fill="none" stroke="#ff0000" stroke-width="5.4" stroke-linecap="round"/>
<path d="M1244.5 1665L1335.1 1528.3M1788.1 1800.8L1878.7 1859.2" fill="none" stroke="#ff0000" stroke-width="5.3" stroke-linecap="round"/>
<path d="M1335.1 1528.3L1425.7 1494.4M1697.5 1561.3L1788.1 1800.8" fill="none" stroke="#ff0000" stroke-width="5.9" stroke-linecap="round"/>
<path d="M1425.7 1494.4L1516.3 1564.2" fill="none" stroke="#ff0000" stroke-width="5.0" stroke-linecap="round"/>
<path d="M1516.3 1564.2L1606.9 1604" fill="none" stroke="#ff0000" stroke-width="5.8" stroke-linecap="round"/>
<path d="M1606.9 1604L1697.5 1561.3" fill="none" stroke="#ff0000" stroke-width="5.7" stroke-linecap="round"/>
<path d="M1878.7 1859.2L1969.3 1883.4" fill="none" stroke="#ff0000" stroke-width="6.1" stroke-linecap="round"/>
<circle cx="1063.3" cy="1883.4" r="10.2" fill="#ff0000"/>
<circle cx="1153.9" cy="1817" r="10.2" fill="#ff0000"/>
<circle cx="1244.5" cy="1665" r="10.2" fill="#ff0000"/>
<circle cx="1335.1" cy="1528.3" r="10.2" fill="#ff0000"/>
<circle cx="1425.7" cy="1494.4" r="10.2" fill="#ff0000"/>
<circle cx="1516.3" cy="1564.2" r="10.2" fill="#ff0000"/>
<circle cx="1606.9" cy="1604" r="10.2" fill="#ff0000"/>
<circle cx="1697.5" cy="1561.3" r="10.2" fill="#ff0000"/>
<circle cx="1788.1" cy="1800.8" r="10.2" fill="#ff0000"/>
<circle cx="1878.7" cy="1859.2" r="10.2" fill="#ff0000"/>
<circle cx="1969.3" cy="1883.4" r="10.2" fill="#ff0000"/>
<path d="M1063.3 1883.4L1153.9 1790.8" fill="none" stroke="#0000ff" stroke-width="4.5" stroke-linecap="round"/>
<path d="M1153.9 1790.8L1244.5 1619.8M1606.9 1562.8L1697.5 1608.4" fill="none" stroke="#0000ff" stroke-width="5.6" stroke-linecap="round"/>
<path d="M1244.5 1619.8L1335.1 1479M1788.1 1825L1878.7 1882" fill="none" stroke="#0000ff" stroke-width="5.3" stroke-linecap="round"/>
<path d="M1335.1 1479L1425.7 1523" fill="none" stroke="#0000ff" stroke-width="5.7" stroke-linecap="round"/>
<path d="M1425.7 1523L1516.3 1487.8" fill="none" stroke="#0000ff" stroke-width="5.9" stroke-linecap="round"/>
<path d="M1516.3 1487.8L1606.9 1562.8" fill="none" stroke="#0000ff" stroke-width="4.9" stroke-linecap="round"/>
<path d="M1697.5 1608.4L1788.1 1825" fill="none" stroke="#0000ff" stroke-width="5.8" stroke-linecap="round"/>
<path d="M1878.7 1882L1969.3 1883.4" fill="none" stroke="#0000ff" stroke-width="6.3" stroke-linecap="round"/>
<polygon points="1063.3,1865.9 1051.3,1892.9 1075.3,1892.9" fill="#0000ff"/>
<polygon points="1153.9,1773.3 1141.9,1800.3 1165.9,1800.3" fill="#0000ff"/>
<polygon points="1244.5,1602.3 1232.5,1629.3 1256.5,1629.3" fill="#0000ff"/>
<polygon points="1335.1,1461.5 1323.1,1488.5 1347.1,1488.5" fill="#0000ff"/>
<polygon points="1425.7,1505.5 1413.7,1532.5 1437.7,1532.5" fill="#0000ff"/>
<polygon points="1516.3,1470.3 1504.3,1497.3 1528.3,1497.3" fill="#0000ff"/>
<polygon points="1606.9,1545.3 1594.9,1572.3 1618.9,1572.3" fill="#0000ff"/>
<polygon points="1697.5,1590.9 1685.5,1617.9 1709.5,1617.9" fill="#0000ff"/>
<polygon points="1788.1,1807.5 1776.1,1834.5 1800.1,1834.5" fill="#0000ff"/>
<polygon points="1878.7,1864.5 1866.7,1891.5 1890.7,1891.5" fill="#0000ff"/>
<polygon points="1969.3,1865.9 1957.3,1892.9 1981.3,1892.9" fill="#0000ff"/>
<path d="M1063.3 1883.4L1153.9 1780" fill="none" stroke="#00ff00" stroke-width="4.7" stroke-linecap="round"/>
<path d="M1153.9 1780L1244.5 1596" fill="none" stroke="#00ff00" stroke-width="5.7" stroke-linecap="round"/>
<path d="M1244.5 1596L1335.1 1426" fill="none" stroke="#00ff00" stroke-width="5.6" stroke-linecap="round"/>
<path d="M1335.1 1426L1425.7 1423.5M1425.7 1423.5L1516.3 1426M1606.9 1543L1697.5 1544.2M1878.7 1882L1969.3 1883.4" fill="none" stroke="#00ff00" stroke-width="6.3" stroke-linecap="round"/>
<path d="M1516.3 1426L1606.9 1543M1788.1 1762.3L1878.7 1882" fill="none" stroke="#00ff00" stroke-width="5.0" stroke-linecap="round"/>
<path d="M1697.5 1544.2L1788.1 1762.3" fill="none" stroke="#00ff00" stroke-width="5.8" stroke-linecap="round"/>
<polygon points="1063.3,1899.9 1050.8,1876.9 1075.8,1876.9" fill="#00ff00"/>
<polygon points="1153.9,1796.5 1141.4,1773.5 1166.4,1773.5" fill="#00ff00"/>
<polygon points="1244.5,1612.5 1232,1589.5 1257,1589.5" fill="#00ff00"/>
<polygon points="1335.1,1442.5 1322.6,1419.5 1347.6,1419.5" fill="#00ff00"/>
<polygon points="1425.7,1440 1413.2,1417 1438.2,1417" fill="#00ff00"/>
<polygon points="1516.3,1442.5 1503.8,1419.5 1528.8,1419.5" fill="#00ff00"/>
<polygon points="1606.9,1559.5 1594.4,1536.5 1619.4,1536.5" fill="#00ff00"/>
<polygon points="1697.5,1560.7 1685,1537.7 1710,1537.7" fill="#00ff00"/>
<polygon points="1788.1,1778.8 1775.6,1755.8 1800.6,1755.8" fill="#00ff00"/>
<polygon points="1878.7,1898.5 1866.2,1875.5 1891.2,1875.5" fill="#00ff00"/>
<polygon points="1969.3,1899.9 1956.8,1876.9 1981.8,1876.9" fill="#00ff00"/>
<path d="M1063.3 1883.4L1153.9 1762.3M1516.3 1413.7L1606.9 1529" fill="none" stroke="#ff00ff" stroke-width="5.0" stroke-linecap="round"/>
<path d="M1153.9 1762.3L1244.5 1571" fill="none" stroke="#ff00ff" stroke-width="5.7" stroke-linecap="round"/>
<path d="M1244.5 1571L1335.1 1399.4M1606.9 1529L1697.5 1575.6" fill="none" stroke="#ff00ff" stroke-width="5.6" stroke-linecap="round"/>
<path d="M1335.1 1399.4L1425.7 1328" fill="none" stroke="#ff00ff" stroke-width="4.9" stroke-linecap="round"/>
<path d="M1425.7 1328L1516.3 1413.7" fill="none" stroke="#ff00ff" stroke-width="4.6" stroke-linecap="round"/>
<path d="M1697.5 1575.6L1788.1 1739.5" fill="none" stroke="#ff00ff" stroke-width="5.5" stroke-linecap="round"/>
<path d="M1788.1 1739.5L1878.7 1882" fill="none" stroke="#ff00ff" stroke-width="5.3" stroke-linecap="round"/>
<path d="M1878.7 1882L1969.3 1883.4" fill="none" stroke="#ff00ff" stroke-width="6.3" stroke-linecap="round"/>
<polygon points="1051.8,1883.4 1071.8,1869.9 1071.8,1896.9" fill="#ff00ff"/>
<polygon points="1142.4,1762.3 1162.4,1748.8 1162.4,1775.8" fill="#ff00ff"/>
<polygon points="1233,1571 1253,1557.5 1253,1584.5" fill="#ff00ff"/>
<polygon points="1323.6,1399.4 1343.6,1385.9 1343.6,1412.9" fill="#ff00ff"/>
<polygon points="1414.2,1328 1434.2,1314.5 1434.2,1341.5" fill="#ff00ff"/>
<polygon points="1504.8,1413.7 1524.8,1400.2 1524.8,1427.2" fill="#ff00ff"/>
<polygon points="1595.4,1529 1615.4,1515.5 1615.4,1542.5" fill="#ff00ff"/>
<polygon points="1686,1575.6 1706,1562.1 1706,1589.1" fill="#ff00ff"/>
<polygon points="1776.6,1739.5 1796.6,1726 1796.6,1753" fill="#ff00ff"/>
<polygon points="1867.2,1882 1887.2,1868.5 1887.2,1895.5" fill="#ff00ff"/>
<polygon points="1957.8,1883.4 1977.8,1869.9 1977.8,1896.9" fill="#ff00ff"/>
<path d="M1063.3 1883.4L1153.9 1742" fill="none" stroke="#00ffff" stroke-width="5.3" stroke-linecap="round"/>
<path d="M1153.9 1742L1244.5 1549.7M1516.3 1399.4L1606.9 1585.6" fill="none" stroke="#00ffff" stroke-width="5.7" stroke-linecap="round"/>
<path d="M1244.5 1549.7L1335.1 1379.2M1697.5 1688.2L1788.1 1860.7" fill="none" stroke="#00ffff" stroke-width="5.6" stroke-linecap="round"/>
<path d="M1335.1 1379.2L1425.7 1309" fill="none" stroke="#00ffff" stroke-width="5.0" stroke-linecap="round"/>
<path d="M1425.7 1309L1516.3 1399.4" fill="none" stroke="#00ffff" stroke-width="4.5" stroke-linecap="round"/>
<path d="M1606.9 1585.6L1697.5 1688.2" fill="none" stroke="#00ffff" stroke-width="4.7" stroke-linecap="round"/>
<path d="M1788.1 1860.7L1878.7 1882" fill="none" stroke="#00ffff" stroke-width="6.1" stroke-linecap="round"/>
<path d="M1878.7 1882L1969.3 1883.4" fill="none" stroke="#00ffff" stroke-width="6.3" stroke-linecap="round"/>
<polygon points="1075.8,1883.4 1054.3,1868.9 1054.3,1897.9" fill="#00ffff"/>
<polygon points="1166.4,1742 1144.9,1727.5 1144.9,1756.5" fill="#00ffff"/>
<polygon points="1257,1549.7 1235.5,1535.2 1235.5,1564.2" fill="#00ffff"/>
<polygon points="1347.6,1379.2 1326.1,1364.7 1326.1,1393.7" fill="#00ffff"/>
<polygon points="1438.2,1309 1416.7,1294.5 1416.7,1323.5" fill="#00ffff"/>
<polygon points="1528.8,1399.4 1507.3,1384.9 1507.3,1413.9" fill="#00ffff"/>
<polygon points="1619.4,1585.6 1597.9,1571.1 1597.9,1600.1" fill="#00ffff"/>
<polygon points="1710,1688.2 1688.5,1673.7 1688.5,1702.7" fill="#00ffff"/>
<polygon points="1800.6,1860.7 1779.1,1846.2 1779.1,1875.2" fill="#00ffff"/>
<polygon points="1891.2,1882 1869.7,1867.5 1869.7,1896.5" fill="#00ffff"/>
<polygon points="1981.8,1883.4 1960.3,1868.9 1960.3,1897.9" fill="#00ffff"/>
<text x="1061.8" y="1973.3" font-family='"Liberation Serif", "DejaVu Serif", serif' font-weight="bold" font-size="56" text-anchor="middle">0</text>
<text x="1245.2" y="1973.3" font-family='"Liberation Serif", "DejaVu Serif", serif' font-weight="bold" font-size="56" text-anchor="middle" textLength="86.5" lengthAdjust="spacing">700</text>
<text x="1425.2" y="1973.3" font-family='"Liberation Serif", "DejaVu Serif", serif' font-weight="bold" font-size="56" text-anchor="middle" textLength="115.5" lengthAdjust="spacing">1400</text>
<text x="1604.7" y="1973.3" font-family='"Liberation Serif", "DejaVu Serif", serif' font-weight="bold" font-size="56" text-anchor="middle" textLength="115.5" lengthAdjust="spacing">2100</text>
<text x="1785.8" y="1973.3" font-family='"Liberation Serif", "DejaVu Serif", serif' font-weight="bold" font-size="56" text-anchor="middle" textLength="115.5" lengthAdjust="spacing">2800</text>
<text x="1968.8" y="1973.3" font-family='"Liberation Serif", "DejaVu Serif", serif' font-weight="bold" font-size="56" text-anchor="middle" textLength="115.5" lengthAdjust="spacing">3500</text>
<text x="1014" y="1898.6" font-family='"Liberation Serif", "DejaVu Serif", serif' font-weight="bold" font-size="56" text-anchor="end" textLength="99.8" lengthAdjust="spacing" stroke="#fff" stroke-width="1.3">0.00</text>
<text x="1014" y="1776.7" font-family='"Liberation Serif", "DejaVu Serif", serif' font-weight="bold" font-size="56" text-anchor="end" textLength="99.8" lengthAdjust="spacing" stroke="#fff" stroke-width="1.3">0.03</text>
<text x="1014" y="1656" font-family='"Liberation Serif", "DejaVu Serif", serif' font-weight="bold" font-size="56" text-anchor="end" textLength="99.8" lengthAdjust="spacing" stroke="#fff" stroke-width="1.3">0.06</text>
<text x="1014" y="1534.5" font-family='"Liberation Serif", "DejaVu Serif", serif' font-weight="bold" font-size="56" text-anchor="end" textLength="99.8" lengthAdjust="spacing" stroke="#fff" stroke-width="1.3">0.09</text>
<text x="1014" y="1412.9" font-family='"Liberation Serif", "DejaVu Serif", serif' font-weight="bold" font-size="56" text-anchor="end" textLength="99.8" lengthAdjust="spacing" stroke="#fff" stroke-width="1.3">0.12</text>
<text x="1014" y="1291.5" font-family='"Liberation Serif", "DejaVu Serif", serif' font-weight="bold" font-size="56" text-anchor="end" textLength="99.8" lengthAdjust="spacing" stroke="#fff" stroke-width="1.3">0.15</text>
<text x="1130.7" y="2051.5" font-family='"Liberation Serif", "DejaVu Serif", serif' font-weight="bold" font-size="66" textLength="717.3" lengthAdjust="spacing">Simulation time /round</text>
<text transform="translate(776.8 1771.3) rotate(-90)" font-family='"Liberation Serif", "DejaVu Serif", serif' font-weight="bold" font-size="71" textLength="431" lengthAdjust="spacing">Node residual</text>
<text transform="translate(873.4 1791) rotate(-90)" font-family='"Liberation Serif", "DejaVu Serif", serif' font-weight="bold" font-size="69" textLength="490.4" lengthAdjust="spacing">energy variance</text>
<line x1="1267.2" y1="1262.8" x2="1349.2" y2="1262.8" stroke="#000000" stroke-width="6.6"/>
<rect x="1298" y="1252.6" width="20.4" height="20.4" fill="#000000"/>
<text x="1368.2" y="1273.5" font-family='"Liberation Serif", "DejaVu Serif", serif' font-weight="bold" font-size="54" textLength="587.8" lengthAdjust="spacing">The proposed algorithm</text>
<line x1="1618.2" y1="1336.7" x2="1700.9" y2="1336.7" stroke="#ff0000" stroke-width="6.6"/>
<circle cx="1659.6" cy="1336.7" r="11.4" fill="#ff0000"/>
<text x="1708" y="1349.5" font-family='"Liberation Serif", "DejaVu Serif", serif' font-weight="bold" font-size="54" textLength="249.4" lengthAdjust="spacing">LDCFCM</text>
<line x1="1695" y1="1412.3" x2="1776.4" y2="1412.3" stroke="#0000ff" stroke-width="6.6"/>
<polygon points="1735.7,1394.8 1723.7,1421.8 1747.7,1421.8" fill="#0000ff"/>
<text x="1787.8" y="1423.7" font-family='"Liberation Serif", "DejaVu Serif", serif' font-weight="bold" font-size="54" textLength="169.6" lengthAdjust="spacing">AFCM</text>
<line x1="1753.6" y1="1485" x2="1836.3" y2="1485" stroke="#00ff00" stroke-width="6.6"/>
<polygon points="1794.9,1503.1 1782.4,1478.5 1807.4,1478.5" fill="#00ff00"/>
<text x="1847.7" y="1498.3" font-family='"Liberation Serif", "DejaVu Serif", serif' font-weight="bold" font-size="54" textLength="118.3" lengthAdjust="spacing">CNN</text>
<line x1="1753.6" y1="1557.6" x2="1836.3" y2="1557.6" stroke="#ff00ff" stroke-width="6.6"/>
<polygon points="1783.4,1557.6 1803.4,1544.1 1803.4,1571.1" fill="#ff00ff"/>
<text x="1847.7" y="1569" font-family='"Liberation Serif", "DejaVu Serif", serif' font-weight="bold" font-size="54" textLength="121.1" lengthAdjust="spacing">RNN</text>
<line x1="1753.6" y1="1627.8" x2="1836.3" y2="1627.8" stroke="#00ffff" stroke-width="6.6"/>
<polygon points="1807.4,1627.8 1785.9,1613.3 1785.9,1642.3" fill="#00ffff"/>
<text x="1847.7" y="1641" font-family='"Liberation Serif", "DejaVu Serif", serif' font-weight="bold" font-size="54" textLength="129.1" lengthAdjust="spacing">FCM</text>
</g>
</g>
<g id="panel-labels" font-family='"Liberation Sans", "DejaVu Sans", sans-serif' font-weight="bold" font-size="58.7">
<text transform="translate(8.3 48.9) scale(1.036 1)" font-size="57.3">A</text>
<text transform="translate(1325 48.9) scale(0.95 1)" font-size="58.5">B</text>
<text transform="translate(777.7 1171) scale(0.945 1)" font-size="58.7">C</text>
</g>
</svg>
</body>
</html>
